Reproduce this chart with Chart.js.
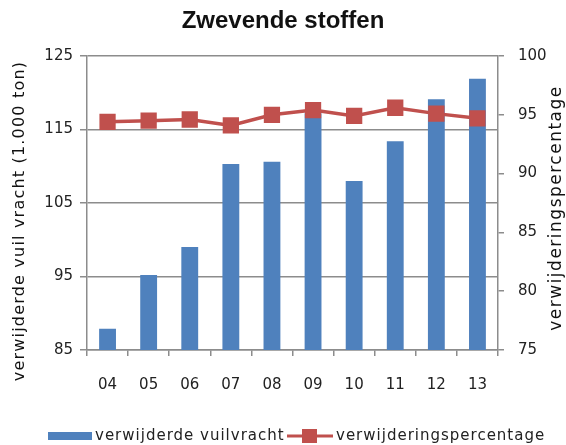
<!DOCTYPE html>
<html>
<head>
<meta charset="utf-8">
<script src="https://cdn.jsdelivr.net/npm/chart.js@4"></script>
<style>
  body { margin: 0; background: #fff; }
</style>
</head>
<body>
<canvas id="chart" width="566" height="445"></canvas>
<script>
const years = ['04', '05', '06', '07', '08', '09', '10', '11', '12', '13'];
const vuilvracht = [87.9, 95.2, 99.0, 110.3, 110.6, 117.2, 108.0, 113.4, 119.1, 121.9];
const percentage = [94.4, 94.5, 94.6, 94.1, 95.0, 95.4, 94.9, 95.6, 95.1, 94.7];
const leftTicks = [85, 95, 105, 115, 125];
const rightTicks = [75, 80, 85, 90, 95, 100];

const barColor = '#4f81bd';
const lineColor = '#c0504d';
const gridColor = '#8c8c8c';
const tickFont = { family: 'DejaVu Sans', size: 15 };

// axis titles and legend drawn by hand: right title reads bottom-to-top,
// legend has the wide swatch and line+square marker of the original
const extras = {
  id: 'extras',
  afterDraw(chart) {
    const ctx = chart.ctx;
    ctx.save();
    ctx.fillStyle = '#111';
    ctx.font = '16px "DejaVu Sans"';
    ctx.letterSpacing = '1.2px';
    ctx.textAlign = 'center';
    ctx.textBaseline = 'middle';
    ctx.translate(20, 221);
    ctx.rotate(-Math.PI / 2);
    ctx.fillText('verwijderde vuil vracht (1.000 ton)', 0, 0);
    ctx.restore();

    ctx.save();
    ctx.fillStyle = '#111';
    ctx.font = '17px "DejaVu Sans"';
    ctx.letterSpacing = '1.5px';
    ctx.textAlign = 'center';
    ctx.textBaseline = 'middle';
    ctx.translate(557, 208);
    ctx.rotate(-Math.PI / 2);
    ctx.fillText('verwijderingspercentage', 0, 0);
    ctx.restore();

    const ly = 436;
    ctx.save();
    ctx.fillStyle = barColor;
    ctx.fillRect(48, ly - 4, 44, 8);
    ctx.fillStyle = lineColor;
    ctx.fillRect(287, ly - 1.5, 46, 3);
    ctx.fillRect(302, ly - 7, 15, 14);
    ctx.fillStyle = '#222';
    ctx.font = '15px "DejaVu Sans"';
    ctx.letterSpacing = '1px';
    ctx.textAlign = 'left';
    ctx.textBaseline = 'middle';
    ctx.fillText(chart.data.datasets[1].label, 95, ly);
    ctx.fillText(chart.data.datasets[0].label, 336, ly);
    ctx.restore();
  }
};

new Chart(document.getElementById('chart'), {
  data: {
    labels: years,
    datasets: [
      {
        type: 'line',
        label: 'verwijderingspercentage',
        data: percentage,
        yAxisID: 'y1',
        borderColor: lineColor,
        backgroundColor: lineColor,
        borderWidth: 3.5,
        pointStyle: 'rect',
        pointRadius: 11.5,
        pointHoverRadius: 11.5,
        pointBorderWidth: 0,
        order: 0,
      },
      {
        type: 'bar',
        label: 'verwijderde vuilvracht',
        data: vuilvracht,
        yAxisID: 'y',
        backgroundColor: barColor,
        barPercentage: 0.41,
        categoryPercentage: 1,
        order: 1,
      },
    ],
  },
  options: {
    responsive: false,
    animation: false,
    layout: { padding: { left: 0, right: 0, top: 0, bottom: 45 } },
    plugins: {
      legend: { display: false },
      tooltip: { enabled: false },
      title: {
        display: true,
        text: 'Zwevende stoffen',
        color: '#111',
        font: { family: 'Liberation Sans', size: 24, weight: 'bold', lineHeight: 1.2 },
        padding: { top: 7, bottom: 20.2 },
      },
    },
    scales: {
      x: {
        offset: true,
        grid: {
          offset: true,
          drawOnChartArea: false,
          color: gridColor,
          lineWidth: 1.5,
          tickLength: 6,
          tickColor: gridColor,
        },
        border: { color: gridColor, width: 1.5 },
        ticks: { color: '#222', font: tickFont, padding: 20 },
        afterFit(scale) { scale.height = 50; },
      },
      y: {
        position: 'left',
        min: 85,
        max: 125,
        afterBuildTicks(scale) { scale.ticks = leftTicks.map(v => ({ value: v })); },
        grid: { color: gridColor, lineWidth: 1.5, tickLength: 7 },
        border: { color: gridColor, width: 1.5 },
        ticks: { color: '#222', font: tickFont, padding: 7 },
        afterFit(scale) { scale.width = 87; },
      },
      y1: {
        position: 'right',
        min: 75,
        max: 100,
        afterBuildTicks(scale) { scale.ticks = rightTicks.map(v => ({ value: v })); },
        grid: { drawOnChartArea: false, color: gridColor, lineWidth: 1.5, tickLength: 6 },
        border: { color: gridColor, width: 1.5 },
        ticks: { color: '#222', font: tickFont, padding: 14 },
        afterFit(scale) { scale.width = 68; },
      },
    },
  },
  plugins: [extras],
});
</script>
</body>
</html>
